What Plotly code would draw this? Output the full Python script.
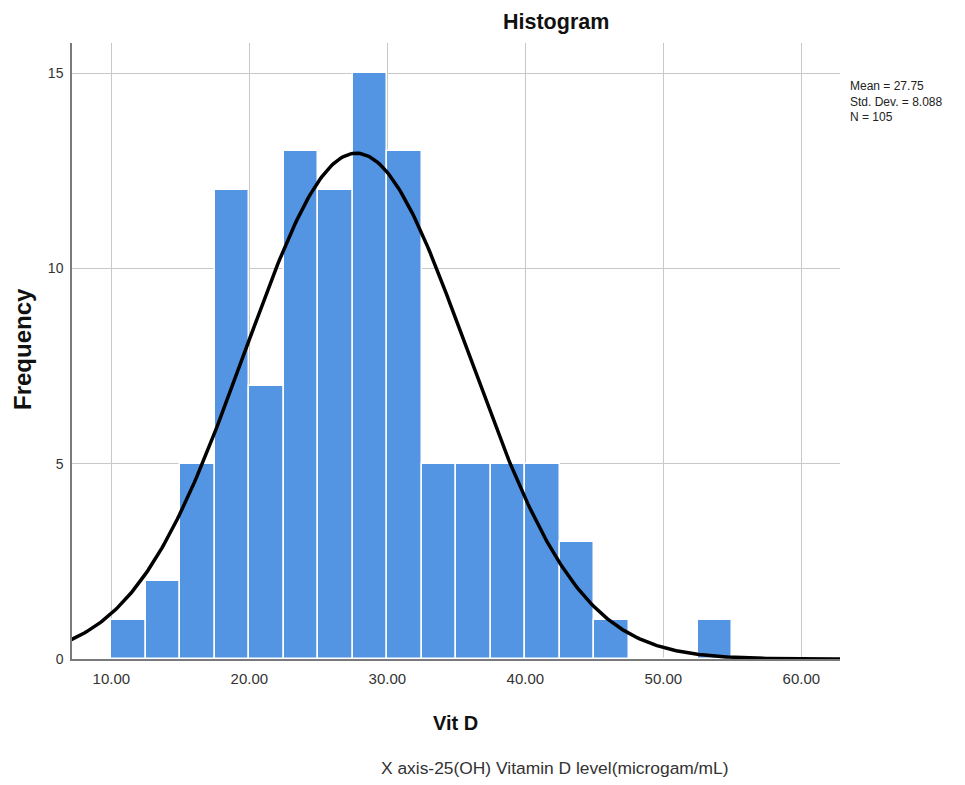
import numpy as np
import plotly.graph_objects as go

bin_starts = [10.0, 12.5, 15.0, 17.5, 20.0, 22.5, 25.0, 27.5, 30.0, 32.5,
              35.0, 37.5, 40.0, 42.5, 45.0, 47.5, 50.0, 52.5]
frequencies = [1, 2, 5, 12, 7, 13, 12, 15, 13, 5, 5, 5, 5, 3, 1, 0, 0, 1]
bin_width = 2.5
mean_val = 27.75
std_val = 8.088
n_val = 105
x_ticks = [10, 20, 30, 40, 50, 60]
x_tick_labels = ["10.00", "20.00", "30.00", "40.00", "50.00", "60.00"]
y_ticks = [0, 5, 10, 15]

centers = [s + bin_width / 2 for s in bin_starts]
xs = np.linspace(7.1, 62.8, 400)
ys = n_val * bin_width / (std_val * np.sqrt(2 * np.pi)) * np.exp(-0.5 * ((xs - mean_val) / std_val) ** 2)

fig = go.Figure()
fig.add_trace(go.Bar(
    x=centers, y=frequencies, width=bin_width,
    marker=dict(color="#5394E3", line=dict(color="#FFFFFF", width=1.5)),
    showlegend=False,
))
fig.add_trace(go.Scatter(
    x=xs, y=ys, mode="lines", line=dict(color="black", width=3.5),
    showlegend=False,
))

PW, PH = 768, 616  # plot area size in px
fig.update_layout(
    width=965, height=785,
    margin=dict(l=64, r=133, t=35, b=134),
    paper_bgcolor="white", plot_bgcolor="white",
    font=dict(family="Liberation Sans, Arial", color="#333333"),
    bargap=0,
    xaxis=dict(range=[7.15, 62.8], tickvals=x_ticks, ticktext=x_tick_labels,
               automargin=False,
               showgrid=True, gridcolor="#C8C8C8", gridwidth=1.2,
               showline=True, linecolor="#7A7A7A", linewidth=1.5,
               ticks="", zeroline=False, tickfont=dict(size=15, color="#333333"),
               ticklabelstandoff=5),
    yaxis=dict(range=[0, 15.77], tickvals=y_ticks,
               automargin=False,
               showgrid=True, gridcolor="#C8C8C8", gridwidth=1.2,
               showline=True, linecolor="#7A7A7A", linewidth=1.5,
               ticks="", zeroline=False, tickfont=dict(size=14, color="#333333"),
               ticklabelstandoff=4),
    annotations=[
        dict(text="<b>Histogram</b>", x=(556 - 72) / PW, y=1 + (43 - 22) / PH,
             xref="paper", yref="paper", xanchor="center", yanchor="middle",
             showarrow=False, font=dict(size=21.5, color="#111111")),
        dict(text="<b>Frequency</b>", x=(22 - 72) / PW, y=(659 - 349) / PH,
             xref="paper", yref="paper", xanchor="center", yanchor="middle",
             textangle=-90, showarrow=False, font=dict(size=24, color="#111111")),
        dict(text="<b>Vit D</b>", x=(455 - 72) / PW, y=-(723 - 659) / PH,
             xref="paper", yref="paper", xanchor="center", yanchor="middle",
             showarrow=False, font=dict(size=20, color="#111111")),
        dict(text="Mean = 27.75<br>Std. Dev. = 8.088<br>N = 105",
             xref="paper", yref="paper", x=1.01, y=1 - (77 - 43) / PH,
             xanchor="left", yanchor="top", align="left", showarrow=False,
             font=dict(size=12, color="#222222")),
        dict(text="X axis-25(OH) Vitamin D level(microgam/mL)",
             xref="paper", yref="paper", x=(555 - 72) / PW, y=-(768 - 659) / PH,
             xanchor="center", yanchor="middle", showarrow=False,
             font=dict(size=17.4, color="#333333")),
    ],
)
fig.write_html("out.html")
